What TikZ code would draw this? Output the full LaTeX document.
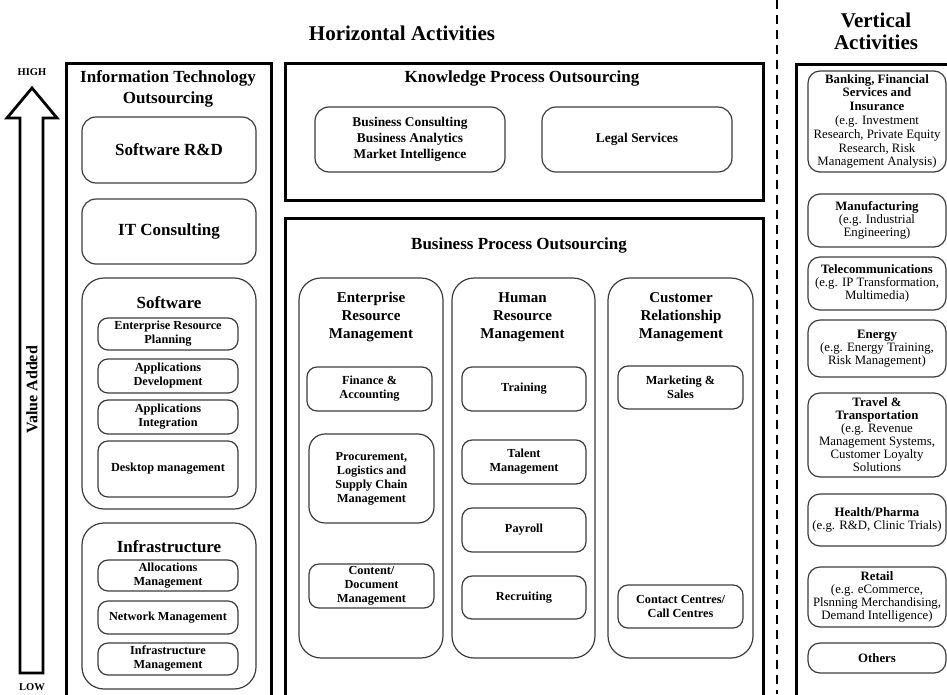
\documentclass[tikz,border=0pt]{standalone}
\usepackage{fontspec}
\setmainfont{Liberation Serif}
\usepackage{tikz}
\usetikzlibrary{arrows.meta, positioning, calc}
\definecolor{boxgrey}{HTML}{3C3C3C}

\tikzset{
  outerbox/.style={draw, line width=3pt, inner sep=0pt},
  groupbox/.style={draw=boxgrey, line width=1.2pt, rounded corners=22pt, inner sep=0pt},
  itembox/.style={draw=boxgrey, line width=1.2pt, rounded corners=10pt, align=center, inner sep=0pt, font=\bfseries\fontsize{12.3}{14}\selectfont},
  bigitem/.style={itembox, rounded corners=14pt, font=\bfseries\fontsize{17}{21}\selectfont},
  kpobox/.style={itembox, rounded corners=14pt, font=\bfseries\fontsize{13.4}{16}\selectfont},
  vertbox/.style={itembox, rounded corners=12pt, minimum width=138pt, font=\fontsize{12.8}{13}\selectfont},
  maintitle/.style={font=\bfseries\fontsize{21}{22}\selectfont, align=center},
  boxtitle/.style={font=\bfseries\fontsize{17}{21}\selectfont, align=center},
  coltitle/.style={font=\bfseries\fontsize{15}{18}\selectfont, align=center},
  scalelabel/.style={font=\bfseries\fontsize{10.5}{12}\selectfont},
}

\begin{document}
\begin{tikzpicture}[x=1pt, y=-1pt]
  \useasboundingbox (0,0) rectangle (947,694);
  \clip (0,0) rectangle (947,694);

  \node[maintitle] (horiz) at (402,33) {Horizontal Activities};
  \node[maintitle] (vert) at (876,31) {Vertical\\Activities};

  % value added scale
  \draw[line width=2.8pt, line join=miter] (20,673) -- (20,118) -- (7,118) -- (32,88) -- (57,118) -- (43,118) -- (43,673) -- cycle;
  \node[scalelabel] (high) at (32,72) {HIGH};
  \node[scalelabel] (low) at (32,687) {LOW};
  \node[rotate=90, font=\bfseries\fontsize{16}{18}\selectfont] (valadd) at (32,390) {Value Added};

  \coordinate (septop) at (777,0);
  \coordinate (sepbot) at (777,694);
  \draw[line width=2.5pt, dash pattern=on 9pt off 6pt] (septop) -- (sepbot);

  % information technology outsourcing
  \node[outerbox, anchor=north west, minimum width=205pt, minimum height=660pt] (ito) at (65,62) {};
  \node[boxtitle] (itotitle) at (168,89) {Information Technology\\Outsourcing};
  \node[bigitem, minimum width=174pt, minimum height=66pt] (swrd) at (169,150) {Software R\&D};
  \node[bigitem, minimum width=174pt, minimum height=65pt] (itcons) at (169,231.5) {IT Consulting};
  \node[groupbox, minimum width=174pt, minimum height=231pt] (software) at (169,393.5) {};
  \node[boxtitle] (softtitle) at (169,303) {Software};
  \node[itembox, minimum width=140pt, minimum height=32pt] (erp) at (168,334) {Enterprise Resource\\Planning};
  \node[itembox, minimum width=140pt, minimum height=34pt] (appdev) at (168,376) {Applications\\Development};
  \node[itembox, minimum width=140pt, minimum height=34pt] (appint) at (168,417) {Applications\\Integration};
  \node[itembox, minimum width=140pt, minimum height=56pt] (desktop) at (168,469) {Desktop management};
  \node[groupbox, minimum width=174pt, minimum height=166pt] (infra) at (169,606) {};
  \node[boxtitle] (infratitle) at (169,547) {Infrastructure};
  \node[itembox, minimum width=140pt, minimum height=31pt] (alloc) at (168,575.5) {Allocations\\Management};
  \node[itembox, minimum width=140pt, minimum height=33pt] (netman) at (168,617.5) {Network Management};
  \node[itembox, minimum width=140pt, minimum height=32pt] (infman) at (168,659) {Infrastructure\\Management};

  % knowledge process outsourcing
  \node[outerbox, anchor=north west, minimum width=478pt, minimum height=137pt] (kpo) at (284,62) {};
  \node[boxtitle] (kpotitle) at (522,78) {Knowledge Process Outsourcing};
  \node[kpobox, minimum width=190pt, minimum height=65pt] (bizcons) at (410,139.5) {Business Consulting\\Business Analytics\\Market Intelligence};
  \node[kpobox, minimum width=190pt, minimum height=65pt] (legal) at (637,139.5) {Legal Services};

  % business process outsourcing
  \node[outerbox, anchor=north west, minimum width=478pt, minimum height=500pt] (bpo) at (284,217) {};
  \node[boxtitle] (bpotitle) at (519,245) {Business Process Outsourcing};
  \node[groupbox, minimum width=144pt, minimum height=380pt] (erm) at (371,468) {};
  \node[groupbox, minimum width=143pt, minimum height=380pt] (hrm) at (523.5,468) {};
  \node[groupbox, minimum width=145pt, minimum height=380pt] (crm) at (680.5,468) {};
  \node[coltitle] (ermtitle) at (371,317) {Enterprise\\Resource\\Management};
  \node[coltitle] (hrmtitle) at (522.5,317) {Human\\Resource\\Management};
  \node[coltitle] (crmtitle) at (681,317) {Customer\\Relationship\\Management};

  \node[itembox, minimum width=125pt, minimum height=44pt] (finance) at (369.5,389) {Finance \&\\Accounting};
  \node[itembox, minimum width=125pt, minimum height=89pt, rounded corners=16pt] (procure) at (371.5,478.5) {Procurement,\\Logistics and\\Supply Chain\\Management};
  \node[itembox, minimum width=125pt, minimum height=44pt] (content) at (371.5,586) {Content/\\Document\\Management};

  \node[itembox, minimum width=124pt, minimum height=44pt] (training) at (524,389) {Training};
  \node[itembox, minimum width=124pt, minimum height=44pt] (talent) at (524,462) {Talent\\Management};
  \node[itembox, minimum width=124pt, minimum height=44pt] (payroll) at (524,530) {Payroll};
  \node[itembox, minimum width=124pt, minimum height=43pt] (recruit) at (524,597.5) {Recruiting};

  \node[itembox, minimum width=125pt, minimum height=43pt] (marketing) at (680.5,387.5) {Marketing \&\\Sales};
  \node[itembox, minimum width=125pt, minimum height=43pt] (contact) at (680.5,606.5) {Contact Centres/\\Call Centres};

  % vertical activities
  \node[outerbox, anchor=north west, minimum width=200pt, minimum height=660pt] (verticals) at (795,63) {};
  \node[vertbox, minimum height=101pt, font=\fontsize{12.8}{13.8}\selectfont] (bfsi) at (877,121.5) {\textbf{Banking, Financial}\\\textbf{Services and}\\\textbf{Insurance}\\(e.g. Investment\\Research, Private Equity\\Research, Risk\\Management Analysis)};
  \node[vertbox, minimum height=53pt] (manuf) at (877,220.5) {\textbf{Manufacturing}\\(e.g. Industrial\\Engineering)};
  \node[vertbox, minimum height=53pt] (telecom) at (877,283.5) {\textbf{Telecommunications}\\(e.g. IP Transformation,\\Multimedia)};
  \node[vertbox, minimum height=57pt] (energy) at (877,348.5) {\textbf{Energy}\\(e.g. Energy Training,\\Risk Management)};
  \node[vertbox, minimum height=84pt] (travel) at (877,435) {\textbf{Travel \&}\\\textbf{Transportation}\\(e.g. Revenue\\Management Systems,\\Customer Loyalty\\Solutions};
  \node[vertbox, minimum height=52pt] (health) at (877,520) {\textbf{Health/Pharma}\\(e.g. R\&D, Clinic Trials)};
  \node[vertbox, minimum height=60pt] (retail) at (877,597) {\textbf{Retail}\\(e.g. eCommerce,\\Plsnning Merchandising,\\Demand Intelligence)};
  \node[vertbox, minimum height=30pt] (others) at (877,658) {\textbf{Others}};
\end{tikzpicture}
\end{document}
